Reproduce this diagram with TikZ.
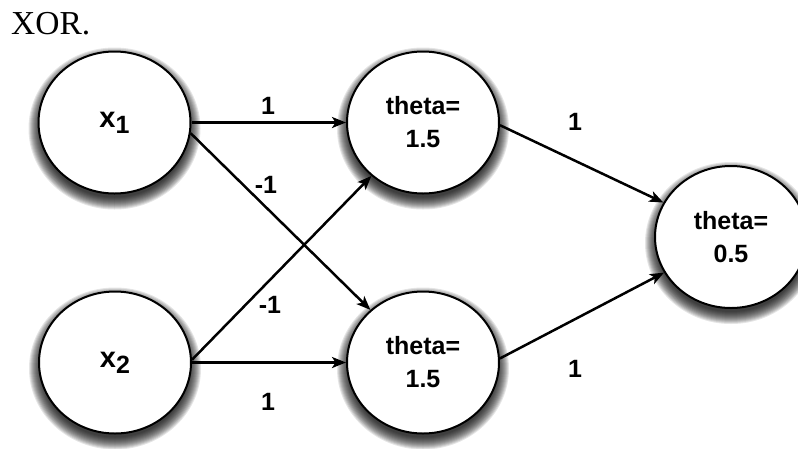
\documentclass[tikz,border=0pt]{standalone}
\usepackage{fontspec}
\setmainfont{Liberation Serif}
\newfontfamily\lsans{Liberation Sans}
\usetikzlibrary{shapes.geometric,arrows.meta}
\begin{document}
\begin{tikzpicture}[x=1pt,y=-1pt,
  neuron/.style={ellipse, draw=black, line width=2pt, fill=white,
    minimum width=152pt, minimum height=142pt, inner sep=0pt, align=center,
    font=\lsans\bfseries\fontsize{25}{33}\selectfont},
  conn/.style={line width=2.5pt, -{Stealth[length=14pt,width=11pt,inset=3.5pt]}},
  wlabel/.style={font=\lsans\bfseries\fontsize{25}{30}\selectfont, inner sep=0pt},
  shadowring/.style={fill=black, fill opacity=0.1, draw=none}]
\useasboundingbox (0,0) rectangle (798,448);
\clip (0,0) rectangle (798,448);
\node[anchor=base west, font=\fontsize{33.5}{36}\selectfont, inner sep=0pt] (title) at (11,34) {XOR.};

% soft drop shadows behind the neurons
\foreach \cx/\cy in {114.5/122.5, 115/362.5, 423/122.5, 423/362.5, 731/237}{
  \foreach \d in {0,1,...,12}{
    \fill[shadowring] (\cx,\cy+6) ellipse [x radius=86-\d, y radius=81-\d];
  }
}

\node[neuron] (x1) at (114.5,122.5) {\raisebox{-3pt}{\fontsize{29}{33}\selectfont x}\raisebox{-9pt}{1}};
\node[neuron] (x2) at (115,362.5) {\raisebox{-3pt}{\fontsize{29}{33}\selectfont x}\raisebox{-9pt}{2}};
\node[neuron] (h1) at (423,122.5) {theta=\\1.5};
\node[neuron] (h2) at (423,362.5) {theta=\\1.5};
\node[neuron] (o) at (731,237) {theta=\\0.5};

\draw[conn] (x1.east) -- (h1.west);
\draw[conn] (x1.-8) -- (h2.135);
\draw[conn] (x2.2) -- (h1.226);
\draw[conn] (x2.east) -- (h2.west);
\draw[conn] (h1.-2) -- (o.153);
\draw[conn] (h2.3) -- (o.208);

\node[wlabel] (w1) at (268,106) {1};
\node[wlabel] (w2) at (266,185) {-1};
\node[wlabel] (w3) at (270,305) {-1};
\node[wlabel] (w4) at (268,402) {1};
\node[wlabel] (w5) at (575,122) {1};
\node[wlabel] (w6) at (575,369) {1};
\end{tikzpicture}
\end{document}
